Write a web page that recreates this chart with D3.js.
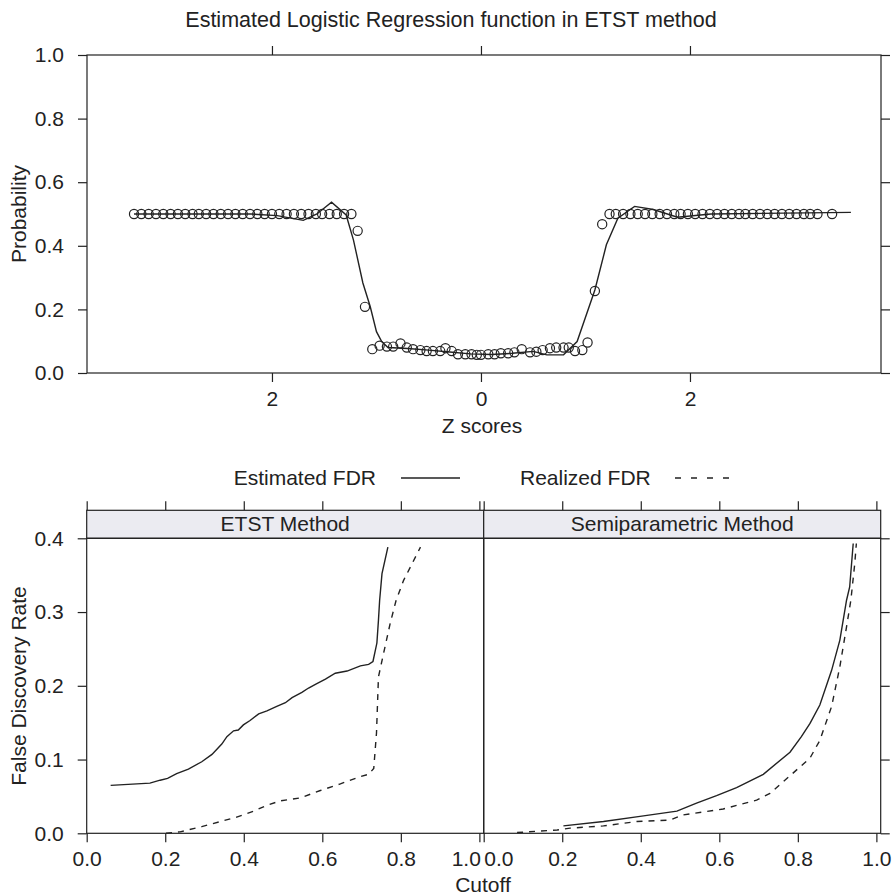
<!DOCTYPE html>
<html>
<head>
<meta charset="utf-8">
<script src="https://cdn.jsdelivr.net/npm/d3@7"></script>
<style>
body { margin: 0; background: #fff; }
svg text { font-family: "Liberation Sans", Arial, sans-serif; fill: #222; }
</style>
</head>
<body>
<svg width="892" height="896"></svg>
<script>
// top panel: binned z scores and observed proportions
const zPoints = [-3.32, -3.25, -3.18, -3.11, -3.04, -2.97, -2.90, -2.83, -2.76, -2.70,
    -2.63, -2.56, -2.49, -2.42, -2.35, -2.28, -2.21, -2.14, -2.07, -2.00,
    -1.93, -1.86, -1.79, -1.72, -1.65, -1.58, -1.52, -1.45, -1.38, -1.31, -1.24,
    -1.18, -1.11,
    -1.04, -0.97, -0.90, -0.84, -0.77, -0.71, -0.65, -0.58, -0.52, -0.46,
    -0.39, -0.34, -0.28, -0.22, -0.15, -0.09, -0.04,
    0.00, 0.07, 0.13, 0.19, 0.26, 0.32, 0.39, 0.47, 0.53, 0.59, 0.66, 0.72, 0.79, 0.84, 0.90, 0.97, 1.02,
    1.09, 1.16,
    1.23, 1.29, 1.36, 1.43, 1.50, 1.57, 1.64, 1.71, 1.78, 1.85, 1.91, 1.98, 2.05, 2.12, 2.19,
    2.26, 2.33, 2.40, 2.47, 2.53, 2.60, 2.67, 2.74, 2.81, 2.88, 2.95, 3.02, 3.09, 3.15, 3.22, 3.36];
const pPoints = [0.50, 0.50, 0.50, 0.50, 0.50, 0.50, 0.50, 0.50, 0.50, 0.50,
    0.50, 0.50, 0.50, 0.50, 0.50, 0.50, 0.50, 0.50, 0.50, 0.50,
    0.50, 0.50, 0.50, 0.50, 0.50, 0.50, 0.50, 0.50, 0.50, 0.50, 0.50,
    0.447, 0.208,
    0.075, 0.086, 0.083, 0.083, 0.093, 0.080, 0.075, 0.072, 0.069, 0.069,
    0.069, 0.078, 0.069, 0.059, 0.059, 0.059, 0.057,
    0.057, 0.059, 0.059, 0.062, 0.062, 0.065, 0.075, 0.065, 0.067, 0.072, 0.078, 0.080, 0.080, 0.080, 0.069, 0.072, 0.096,
    0.258, 0.468,
    0.50, 0.50, 0.50, 0.50, 0.50, 0.50, 0.50, 0.50, 0.50, 0.50, 0.50, 0.50, 0.50, 0.50, 0.50,
    0.50, 0.50, 0.50, 0.50, 0.50, 0.50, 0.50, 0.50, 0.50, 0.50, 0.50, 0.50, 0.50, 0.50, 0.50, 0.50];

// top panel: fitted logistic curve
const zCurve = [-3.32, -2.20, -1.95, -1.70, -1.57, -1.43, -1.29, -1.22, -1.13, -1.06, -1.00, -0.95, -0.89,
    -0.70, -0.50, -0.30, -0.10, 0.10, 0.30, 0.50, 0.63, 0.79, 0.92, 1.09, 1.20, 1.31, 1.47, 1.65,
    1.88, 2.20, 3.54];
const pCurve = [0.50, 0.50, 0.495, 0.48, 0.50, 0.537, 0.497, 0.418, 0.283, 0.209, 0.13, 0.099, 0.08,
    0.077, 0.072, 0.066, 0.060, 0.058, 0.062, 0.068, 0.057, 0.057, 0.099, 0.261, 0.403, 0.487, 0.524, 0.514,
    0.49, 0.50, 0.505];

const zTicks = [-2, 0, 2];
const zTickLabels = ['2', '0', '2'];
const probTicks = [0, 0.2, 0.4, 0.6, 0.8, 1.0];

// bottom panels
const panelNames = ['ETST Method', 'Semiparametric Method'];
const cutTicks = [0, 0.2, 0.4, 0.6, 0.8, 1.0];
const fdrTicks = [0, 0.1, 0.2, 0.3, 0.4];

const etstEstCut = [0.061, 0.161, 0.187, 0.206, 0.229, 0.259, 0.293, 0.319, 0.344, 0.357, 0.374, 0.386,
    0.399, 0.416, 0.438, 0.459, 0.484, 0.506, 0.523, 0.548, 0.565, 0.586, 0.608, 0.633, 0.663, 0.697,
    0.718, 0.729, 0.739, 0.743, 0.746, 0.752, 0.767];
const etstEstFdr = [0.065, 0.068, 0.072, 0.0745, 0.081, 0.087, 0.097, 0.107, 0.121, 0.131, 0.139, 0.140,
    0.147, 0.153, 0.162, 0.166, 0.172, 0.177, 0.184, 0.191, 0.197, 0.203, 0.209, 0.217, 0.220, 0.227,
    0.229, 0.233, 0.258, 0.289, 0.316, 0.352, 0.388];
const etstRealCut = [0.202, 0.238, 0.293, 0.348, 0.382, 0.425, 0.459, 0.493, 0.544, 0.595, 0.646, 0.697,
    0.718, 0.731, 0.738, 0.743, 0.756, 0.773, 0.788, 0.807, 0.850];
const etstRealFdr = [0.0, 0.002, 0.009, 0.017, 0.022, 0.030, 0.038, 0.044, 0.048, 0.058, 0.067, 0.077,
    0.080, 0.088, 0.136, 0.212, 0.244, 0.285, 0.316, 0.343, 0.388];

const semiEstCut = [0.203, 0.305, 0.398, 0.492, 0.542, 0.593, 0.644, 0.712, 0.780, 0.809, 0.831, 0.856,
    0.886, 0.907, 0.924, 0.932, 0.941];
const semiEstFdr = [0.010, 0.016, 0.023, 0.030, 0.041, 0.051, 0.062, 0.080, 0.110, 0.131, 0.149, 0.174,
    0.221, 0.262, 0.316, 0.334, 0.393];
const semiRealCut = [0.085, 0.187, 0.220, 0.305, 0.390, 0.475, 0.508, 0.610, 0.695, 0.729, 0.780, 0.831,
    0.856, 0.886, 0.907, 0.924, 0.935, 0.945, 0.949];
const semiRealFdr = [0.001, 0.0045, 0.007, 0.010, 0.016, 0.018, 0.025, 0.033, 0.045, 0.054, 0.078, 0.102,
    0.126, 0.172, 0.226, 0.280, 0.316, 0.366, 0.393];

const ink = '#222';
const fontSize = 21;
const tickLen = 9;

const svg = d3.select('svg');

function styleAxis(g) {
    g.select('.domain').remove();
    g.selectAll('.tick line').attr('stroke', ink).attr('stroke-width', 1.2);
    g.selectAll('.tick text').attr('font-size', fontSize).attr('font-family', null).attr('fill', ink);
}

// ---------- top panel ----------
let topBox = {left: 87, right: 881, top: 55, bottom: 373};

let x = d3.scaleLinear().domain([-3.77, 3.828]).range([topBox.left, topBox.right]);
let y = d3.scaleLinear().domain([0, 1]).range([topBox.bottom, topBox.top]);

svg.append('text')
    .attr('x', 451).attr('y', 27)
    .attr('text-anchor', 'middle')
    .attr('font-size', 21.5)
    .text('Estimated Logistic Regression function in ETST method');

svg.append('g').attr('transform', 'translate(0,' + topBox.bottom + ')')
    .call(d3.axisBottom(x).tickValues(zTicks).tickFormat((d, i) => zTickLabels[i])
        .tickSize(tickLen).tickSizeOuter(0).tickPadding(9))
    .call(styleAxis);
svg.append('g').attr('transform', 'translate(0,' + topBox.top + ')')
    .call(d3.axisTop(x).tickValues(zTicks).tickFormat('').tickSize(tickLen).tickSizeOuter(0))
    .call(styleAxis);
svg.append('g').attr('transform', 'translate(' + topBox.left + ',0)')
    .call(d3.axisLeft(y).tickValues(probTicks).tickFormat(d3.format('.1f'))
        .tickSize(tickLen).tickSizeOuter(0).tickPadding(14))
    .call(styleAxis);
svg.append('g').attr('transform', 'translate(' + topBox.right + ',0)')
    .call(d3.axisRight(y).tickValues(probTicks).tickFormat('').tickSize(tickLen).tickSizeOuter(0))
    .call(styleAxis);

svg.append('rect')
    .attr('x', topBox.left).attr('y', topBox.top)
    .attr('width', topBox.right - topBox.left).attr('height', topBox.bottom - topBox.top)
    .attr('fill', 'none').attr('stroke', ink).attr('stroke-width', 1.2);

let curve = d3.line().x(d => x(d[0])).y(d => y(d[1]));
svg.append('path')
    .datum(zCurve.map((z, i) => [z, pCurve[i]]))
    .attr('d', curve)
    .attr('fill', 'none').attr('stroke', ink).attr('stroke-width', 1.4);

svg.append('g').selectAll('circle')
    .data(zPoints.map((z, i) => [z, pPoints[i]]))
    .enter().append('circle')
    .attr('cx', d => x(d[0]))
    .attr('cy', d => y(d[1]))
    .attr('r', 4.6)
    .attr('fill', 'none').attr('stroke', ink).attr('stroke-width', 1.2);

svg.append('text')
    .attr('x', 482).attr('y', 433)
    .attr('text-anchor', 'middle').attr('font-size', fontSize)
    .text('Z scores');
svg.append('text')
    .attr('transform', 'translate(26,214) rotate(-90)')
    .attr('text-anchor', 'middle').attr('font-size', fontSize)
    .text('Probability');

// ---------- legend ----------
let legY = 478;
svg.append('text').attr('x', 376).attr('y', legY + 7)
    .attr('text-anchor', 'end').attr('font-size', fontSize).text('Estimated FDR');
svg.append('line').attr('x1', 401).attr('x2', 460).attr('y1', legY).attr('y2', legY)
    .attr('stroke', ink).attr('stroke-width', 1.4);
svg.append('text').attr('x', 520).attr('y', legY + 7)
    .attr('font-size', fontSize).text('Realized FDR');
svg.append('line').attr('x1', 675).attr('x2', 737).attr('y1', legY).attr('y2', legY)
    .attr('stroke', ink).attr('stroke-width', 1.4).attr('stroke-dasharray', '6,10');

// ---------- bottom panels ----------
let panelW = 397;
let panelLeft = [86.7, 483.7];
let stripTop = 510.3, plotTop = 538.3, plotBottom = 833.3;

let fy = d3.scaleLinear().domain([0, 0.4]).range([plotBottom, plotTop]);

let series = [
    [[etstEstCut, etstEstFdr], [etstRealCut, etstRealFdr]],
    [[semiEstCut, semiEstFdr], [semiRealCut, semiRealFdr]]
];

panelNames.forEach(function (name, p) {
    let left = panelLeft[p];
    let cx = d3.scaleLinear().domain([0, 1.011]).range([left, left + panelW]);

    let bottomAxis = svg.append('g').attr('transform', 'translate(0,' + plotBottom + ')')
        .call(d3.axisBottom(cx).tickValues(cutTicks).tickFormat(d3.format('.1f'))
            .tickSize(tickLen).tickSizeOuter(0).tickPadding(9))
        .call(styleAxis);
    // the "1.0" of the left panel and the "0.0" of the right panel sit side by side
    if (p === 0) {
        bottomAxis.selectAll('.tick text').filter(d => d === 1)
            .attr('text-anchor', 'end').attr('dx', 1);
    } else {
        bottomAxis.selectAll('.tick text').filter(d => d === 0)
            .attr('text-anchor', 'start').attr('dx', 0);
    }
    svg.append('g').attr('transform', 'translate(0,' + stripTop + ')')
        .call(d3.axisTop(cx).tickValues(cutTicks).tickFormat('').tickSize(tickLen).tickSizeOuter(0))
        .call(styleAxis);

    if (p === 0) {
        svg.append('g').attr('transform', 'translate(' + left + ',0)')
            .call(d3.axisLeft(fy).tickValues(fdrTicks).tickFormat(d3.format('.1f'))
                .tickSize(tickLen).tickSizeOuter(0).tickPadding(14))
            .call(styleAxis);
    } else {
        svg.append('g').attr('transform', 'translate(' + (left + panelW) + ',0)')
            .call(d3.axisRight(fy).tickValues(fdrTicks).tickFormat('').tickSize(tickLen).tickSizeOuter(0))
            .call(styleAxis);
    }

    svg.append('rect')
        .attr('x', left).attr('y', stripTop)
        .attr('width', panelW).attr('height', plotTop - stripTop)
        .attr('fill', '#ebebf1').attr('stroke', ink).attr('stroke-width', 1.2);
    svg.append('text')
        .attr('x', left + panelW / 2).attr('y', plotTop - 7)
        .attr('text-anchor', 'middle').attr('font-size', fontSize)
        .text(name);

    svg.append('rect')
        .attr('x', left).attr('y', plotTop)
        .attr('width', panelW).attr('height', plotBottom - plotTop)
        .attr('fill', 'none').attr('stroke', ink).attr('stroke-width', 1.2);

    let line = d3.line().x(d => cx(d[0])).y(d => fy(d[1]));
    series[p].forEach(function (s, k) {
        svg.append('path')
            .datum(s[0].map((c, i) => [c, s[1][i]]))
            .attr('d', line)
            .attr('fill', 'none').attr('stroke', ink).attr('stroke-width', 1.4)
            .attr('stroke-dasharray', k === 1 ? '6,6' : null);
    });
});

svg.append('text')
    .attr('x', 483).attr('y', 892)
    .attr('text-anchor', 'middle').attr('font-size', fontSize)
    .text('Cutoff');
svg.append('text')
    .attr('transform', 'translate(26,686) rotate(-90)')
    .attr('text-anchor', 'middle').attr('font-size', fontSize)
    .text('False Discovery Rate');
</script>
</body>
</html>
